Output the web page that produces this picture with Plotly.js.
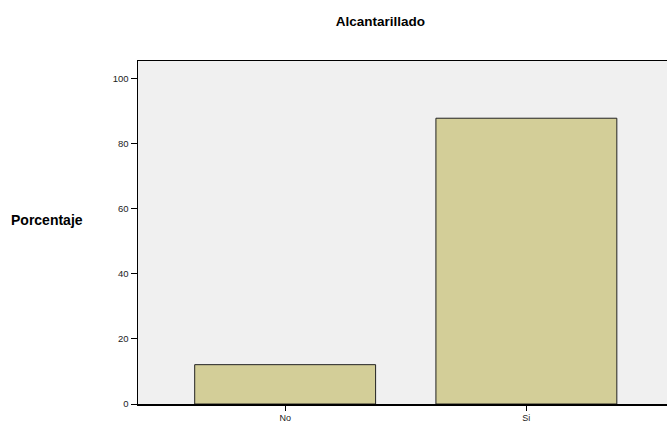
<!DOCTYPE html>
<html><head><meta charset="utf-8">
<script src="https://cdn.plot.ly/plotly-3.0.1.min.js"></script>
<style>body{margin:0;padding:0;background:#fff}#chart{width:667px;height:423px}</style>
</head><body><div id="chart"></div>
<script>
const categories = ["No", "Si"];
const porcentaje = [12.1, 87.9];
const yTicks = [0, 20, 40, 60, 80, 100];

const trace = {
  type: 'bar', x: categories, y: porcentaje,
  marker: {color: '#D3CE98', line: {color: '#222', width: 1}},
  hoverinfo: 'none'
};
const layout = {
  width: 667, height: 423,
  margin: {l: 138, r: 0, t: 61, b: 19},
  paper_bgcolor: '#ffffff', plot_bgcolor: '#F0F0F0',
  showlegend: false, bargap: 0.25,
  font: {family: 'Liberation Sans, Arial, sans-serif', color: '#000'},
  title: {text: '<b>Alcantarillado</b>', xref: 'paper', x: 0.458, xanchor: 'center', yref: 'container', y: 0.95, yanchor: 'middle',
          font: {size: 13.5, color: '#000'}},
  xaxis: {range: [-0.61, 1.583], showline: true, linecolor: '#000', linewidth: 1.5, mirror: true,
          ticks: 'outside', ticklen: 5, tickcolor: '#000', tickfont: {size: 9, color: '#222'},
          showgrid: false, zeroline: false, fixedrange: true},
  yaxis: {range: [0, 105.5], tickvals: yTicks, ticktext: yTicks.map(String),
          showline: true, linecolor: '#000', linewidth: 1.5,
          ticks: 'outside', ticklen: 6, tickcolor: '#000', tickfont: {size: 9.5, color: '#222'},
          showgrid: false, zeroline: false},
  annotations: [{text: '<b>Porcentaje</b>', xref: 'paper', yref: 'paper', x: -0.172, y: 0.535,
                 xanchor: 'center', yanchor: 'middle', showarrow: false, font: {size: 14, color: '#000'}}]
};
Plotly.newPlot('chart', [trace], layout, {displayModeBar: false, staticPlot: true});
</script></body></html>
